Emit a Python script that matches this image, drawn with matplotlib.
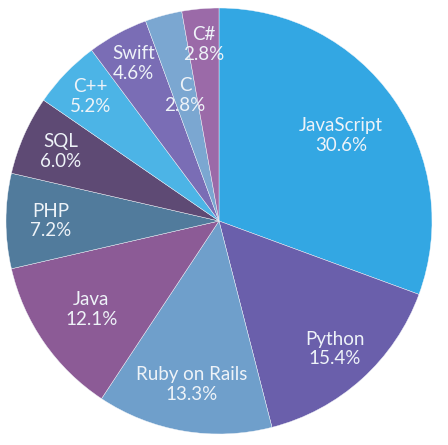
import numpy as np
import matplotlib
matplotlib.use("Agg")
import matplotlib.pyplot as plt

languages = ["JavaScript", "Python", "Ruby on Rails", "Java", "PHP",
             "SQL", "C++", "Swift", "C", "C#"]
shares = [30.6, 15.4, 13.3, 12.1, 7.2, 6.0, 5.2, 4.6, 2.8, 2.8]

colors = ["#33a7e3", "#6a5fab", "#6f9fcb", "#8c5b96", "#517b9c",
          "#5e4a74", "#4cb4e6", "#7a6db5", "#7ba7d1", "#9b6aa8"]
# how far from the centre each label sits (fraction of radius)
label_r = [0.70, 0.81, 0.78, 0.73, 0.79, 0.81, 0.84, 0.84, 0.61, 0.83]

plt.rcParams['font.family'] = ['Lato', 'DejaVu Sans']

fig = plt.figure(figsize=(4.48, 4.45), dpi=100)
ax = fig.add_axes([6/448, 11/445, 426/448, 426/445])
wedges, _ = ax.pie(shares, colors=colors, startangle=90, counterclock=False,
                   radius=1.0, wedgeprops=dict(linewidth=0.3, edgecolor='#f4f6fa'))

for w, name, val, r in zip(wedges, languages, shares, label_r):
    mid = np.deg2rad((w.theta1 + w.theta2) / 2)
    ax.text(r*np.cos(mid), r*np.sin(mid), f"{name}\n{val:.1f}%",
            ha='center', va='center', color='#eef3f8', fontsize=13.5,
            linespacing=1.2)

ax.set_xlim(-1, 1)
ax.set_ylim(-1, 1)
ax.axis('off')
fig.savefig("out.png", dpi=100)
